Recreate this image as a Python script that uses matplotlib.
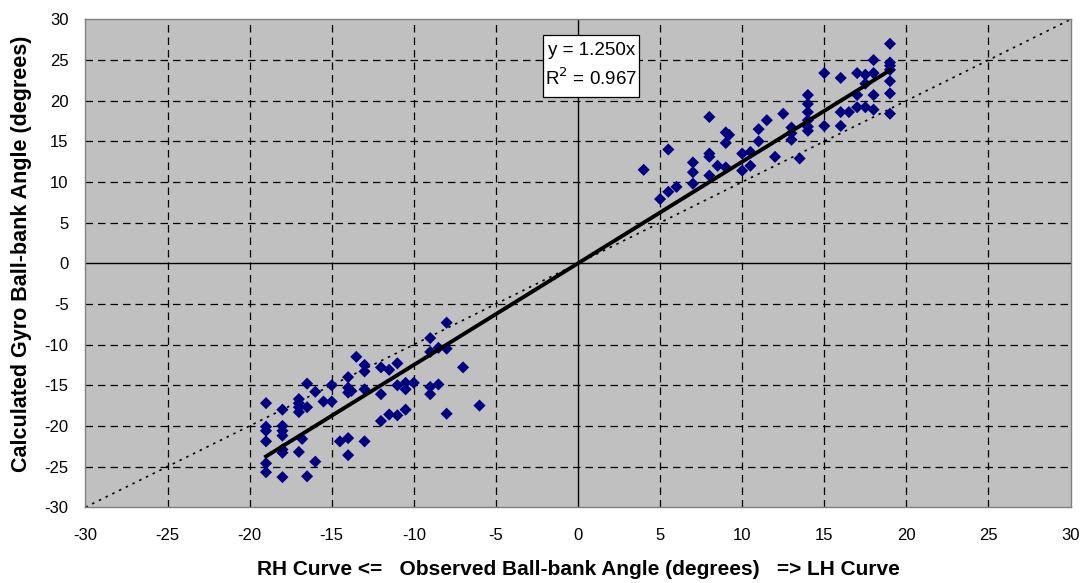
import matplotlib
matplotlib.use("Agg")
import matplotlib.pyplot as plt
from matplotlib.patches import Rectangle
import numpy as np

plt.rcParams['font.family'] = ['Liberation Sans', 'DejaVu Sans']
plt.rcParams['axes.unicode_minus'] = False

# observed vs calculated ball-bank angles, right-hand curves (negative)
rh_obs = [-19, -19, -19, -19, -19, -19,
          -18, -18, -18, -18, -18, -18, -18,
          -17, -17, -17, -17, -16.5, -16.5, -16.8, -17,
          -16, -16.5, -16, -15.5, -15, -15,
          -14.5, -14, -14, -14, -14, -13.8, -14,
          -13.5, -13, -13, -13, -13,
          -12, -11.5, -11, -12, -12, -11.5, -11, -11, -10.5, -10.5, -10.5, -10,
          -9, -9, -8.5, -8, -8, -9, -9, -8.5, -8, -7, -6]
rh_calc = [-17.2, -20.1, -20.6, -21.9, -24.6, -25.7,
           -18.0, -20.0, -20.6, -21.2, -22.9, -23.3, -26.3,
           -16.7, -17.2, -17.7, -18.3, -17.7, -14.8, -21.6, -23.2,
           -24.4, -26.2, -15.8, -17.0, -17.0, -15.0,
           -21.9, -21.5, -23.6, -14.0, -15.3, -15.7, -15.9,
           -11.5, -12.5, -13.3, -15.5, -21.9,
           -12.8, -13.1, -12.3, -16.1, -19.4, -18.6, -18.7, -15.0, -14.7, -15.5, -18.0, -14.7,
           -9.2, -10.9, -10.4, -10.5, -7.3, -15.2, -16.1, -14.9, -18.5, -12.8, -17.5]

# left-hand curves (positive)
lh_obs = [4, 5.5, 5, 5.5, 6, 7, 7, 7, 8, 8, 8, 8, 8.5, 9, 9.2, 9, 9,
          10, 10, 10.5, 10.5, 11, 11, 11.5, 12.5, 12, 13, 13, 13, 13.5,
          14, 14, 14, 14, 14, 14, 15, 15, 16, 16, 16, 16.5,
          17, 17, 17, 17.5, 17.5, 17.5, 18, 18, 18, 18,
          19, 19, 19, 19, 19, 19, 19]
lh_calc = [11.5, 14.0, 7.9, 8.8, 9.4, 12.4, 11.2, 9.8, 18.0, 13.5, 13.1, 10.8, 12.0, 16.1, 15.8, 14.8, 11.8,
           13.5, 11.4, 13.7, 12.0, 16.5, 15.0, 17.6, 18.4, 13.1, 16.7, 16.0, 15.2, 12.9,
           20.7, 19.6, 18.6, 17.6, 16.8, 16.3, 23.4, 16.9, 22.8, 18.6, 16.9, 18.6,
           23.4, 20.7, 19.2, 23.2, 22.1, 19.2, 25.0, 23.4, 20.7, 18.9,
           27.0, 24.7, 24.3, 23.8, 22.4, 20.9, 18.4]

slope = 1.250
r2 = 0.967
ticks = list(range(-30, 35, 5))

x = np.array(rh_obs + lh_obs)
y = np.array(rh_calc + lh_calc)

fig = plt.figure(figsize=(10.88, 5.83), dpi=100)
ax = fig.add_axes([0.0785, 0.130, 0.9055, 0.8367])
ax.set_facecolor('#c0c0c0')

ax.set_xlim(-30, 30)
ax.set_ylim(-30, 30)
ax.set_xticks(ticks)
ax.set_yticks(ticks)
ax.tick_params(length=0, labelsize=12)
ax.tick_params(axis='x', pad=15)
ax.tick_params(axis='y', pad=12)

for t in ticks:
    if t in (-30, 0, 30):
        continue
    ax.axvline(t, color='black', lw=0.9, dashes=(6, 4), zorder=1)
    ax.axhline(t, color='black', lw=0.9, dashes=(6, 4), zorder=1)
ax.axvline(0, color='black', lw=1.0, zorder=1)
ax.axhline(0, color='black', lw=1.0, zorder=1)

for s in ax.spines.values():
    s.set_color('#808080')
    s.set_linewidth(1.0)

# 1:1 reference line
ax.plot([-30, 30], [-30, 30], color='black', lw=1.2, linestyle=(0, (1.5, 3)), zorder=2)

ax.scatter(x, y, marker='D', s=38, color='#000080', edgecolors='none', zorder=3)

# fitted trendline through origin over the data range
xf = np.array([x.min(), x.max()])
ax.plot(xf, slope * xf, color='black', lw=2.8, zorder=4)

# equation label box
ax.add_patch(Rectangle((-2.13, 20.45), 5.84, 7.63, facecolor='white', edgecolor='black', lw=0.9, zorder=5))
ax.text(0.8, 24.3, 'y = %.3fx\nR$^2$ = %.3f' % (slope, r2), fontsize=13.5, ha='center', va='center',
        linespacing=1.5, zorder=6)

ax.set_xlabel('RH Curve <=   Observed Ball-bank Angle (degrees)   => LH Curve',
              fontsize=15, fontweight='bold', labelpad=12)
ax.set_ylabel('Calculated Gyro Ball-bank Angle (degrees)', fontsize=15.5, fontweight='bold')
ax.yaxis.set_label_coords(-0.054, 0.519)

fig.savefig('out.png', dpi=100)
